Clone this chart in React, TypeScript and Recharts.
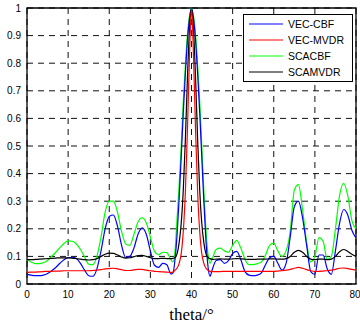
import React from 'react';
import { LineChart, Line, XAxis, YAxis, CartesianGrid, ReferenceArea } from 'recharts';

// scan angle, degrees (finer steps around the main lobe)
const theta = [
  0, 1, 2, 3, 4, 5, 6, 7, 8, 9, 10, 11, 12, 13, 14, 15, 16, 17, 18, 19, 20, 21, 22, 23, 24, 25, 26, 27, 28, 29, 30, 31, 32, 33, 34, 35,
  35.5, 36, 36.5, 37, 37.5, 38, 38.5, 39, 39.5, 40, 40.5, 41, 41.5, 42, 42.5, 43, 43.5, 44, 44.5,
  45, 46, 47, 48, 49, 50, 51, 52, 53, 54, 55, 56, 57, 58, 59, 60, 61, 62, 63, 64, 65, 66, 67, 68, 69, 70, 71, 72, 73, 74, 75, 76, 77, 78, 79, 80,
];

const vecCbf = [
  0.035, 0.032, 0.03, 0.03, 0.032, 0.038, 0.048, 0.06, 0.075, 0.088, 0.095, 0.097, 0.092, 0.075, 0.05, 0.03, 0.028, 0.055, 0.12, 0.2, 0.245, 0.25, 0.21, 0.14, 0.096, 0.1, 0.13, 0.18, 0.203, 0.18, 0.12, 0.068, 0.06, 0.075, 0.07, 0.036,
  0.04, 0.09, 0.18, 0.31, 0.46, 0.62, 0.76, 0.88, 0.96, 1.0, 0.96, 0.88, 0.76, 0.62, 0.46, 0.3, 0.16, 0.065, 0.028,
  0.05, 0.085, 0.088, 0.075, 0.085, 0.11, 0.118, 0.088, 0.045, 0.032, 0.03, 0.032, 0.04, 0.07, 0.095, 0.1, 0.075, 0.05, 0.075, 0.17, 0.28, 0.3, 0.24, 0.14, 0.045, 0.035, 0.105, 0.105, 0.055, 0.035, 0.12, 0.22, 0.27, 0.25, 0.195, 0.167,
];

const vecMvdr = [
  0.042, 0.043, 0.043, 0.044, 0.045, 0.046, 0.046, 0.047, 0.047, 0.048, 0.048, 0.048, 0.048, 0.048, 0.048, 0.048, 0.049, 0.05, 0.052, 0.055, 0.056, 0.057, 0.055, 0.052, 0.049, 0.049, 0.051, 0.053, 0.053, 0.05, 0.048, 0.046, 0.045, 0.044, 0.043, 0.042,
  0.043, 0.05, 0.058, 0.075, 0.11, 0.19, 0.33, 0.55, 0.82, 1.0, 0.82, 0.55, 0.33, 0.19, 0.11, 0.075, 0.058, 0.05, 0.046,
  0.045, 0.045, 0.045, 0.046, 0.046, 0.046, 0.046, 0.046, 0.046, 0.046, 0.046, 0.046, 0.046, 0.046, 0.046, 0.046, 0.047, 0.048, 0.05, 0.053, 0.057, 0.06, 0.057, 0.052, 0.048, 0.046, 0.046, 0.047, 0.048, 0.05, 0.053, 0.057, 0.058, 0.056, 0.053, 0.05,
];

const scaCbf = [
  0.088, 0.08, 0.074, 0.074, 0.077, 0.085, 0.1, 0.115, 0.132, 0.147, 0.156, 0.155, 0.145, 0.125, 0.098, 0.072, 0.07, 0.1, 0.17, 0.26, 0.3, 0.3, 0.26, 0.19, 0.145, 0.14, 0.18, 0.225, 0.24, 0.222, 0.17, 0.118, 0.106, 0.115, 0.114, 0.088,
  0.08, 0.12, 0.24, 0.36, 0.5, 0.66, 0.79, 0.9, 0.97, 1.0, 0.97, 0.9, 0.79, 0.66, 0.5, 0.34, 0.2, 0.11, 0.075,
  0.09, 0.125, 0.13, 0.12, 0.115, 0.14, 0.158, 0.13, 0.09, 0.07, 0.07, 0.074, 0.08, 0.105, 0.14, 0.148, 0.12, 0.1, 0.12, 0.19, 0.34, 0.36, 0.27, 0.15, 0.08, 0.1, 0.168, 0.155, 0.09, 0.1, 0.2, 0.32, 0.365, 0.32, 0.23, 0.2,
];

const scaMvdr = [
  0.088, 0.088, 0.089, 0.09, 0.091, 0.092, 0.093, 0.094, 0.095, 0.095, 0.095, 0.094, 0.092, 0.09, 0.088, 0.087, 0.088, 0.092, 0.1, 0.108, 0.112, 0.111, 0.105, 0.098, 0.094, 0.095, 0.099, 0.103, 0.104, 0.1, 0.095, 0.092, 0.092, 0.093, 0.092, 0.092,
  0.093, 0.095, 0.11, 0.15, 0.22, 0.34, 0.52, 0.74, 0.92, 1.0, 0.92, 0.74, 0.52, 0.34, 0.22, 0.15, 0.11, 0.096, 0.092,
  0.089, 0.09, 0.091, 0.09, 0.09, 0.091, 0.092, 0.091, 0.09, 0.089, 0.089, 0.09, 0.09, 0.09, 0.091, 0.091, 0.09, 0.09, 0.092, 0.1, 0.115, 0.122, 0.115, 0.1, 0.09, 0.088, 0.09, 0.09, 0.088, 0.09, 0.1, 0.117, 0.125, 0.118, 0.108, 0.1,
];

const xTicks = [0, 10, 20, 30, 40, 50, 60, 70, 80];
const yTicks = [0, 0.1, 0.2, 0.3, 0.4, 0.5, 0.6, 0.7, 0.8, 0.9, 1];

const series = [
  { key: 'vecCbf', name: 'VEC-CBF', color: '#0000ff' },
  { key: 'vecMvdr', name: 'VEC-MVDR', color: '#ff0000' },
  { key: 'scaCbf', name: 'SCACBF', color: '#00ff00' },
  { key: 'scaMvdr', name: 'SCAMVDR', color: '#000000' },
];

// drawing order: green at the back, red on top
const drawOrder = ['scaCbf', 'vecCbf', 'scaMvdr', 'vecMvdr'];

const data = theta.map((t, i) => ({
  theta: t,
  vecCbf: vecCbf[i],
  vecMvdr: vecMvdr[i],
  scaCbf: scaCbf[i],
  scaMvdr: scaMvdr[i],
}));

const tickStyle = { fontFamily: '"Liberation Sans", Arial, sans-serif', fontSize: 10, fill: '#000' };

const LegendBox = () => (
  <div
    style={{
      position: 'absolute',
      left: 243,
      top: 14,
      width: 110,
      height: 68,
      boxSizing: 'border-box',
      border: '1.5px solid #000',
      background: '#fff',
      paddingTop: 1,
      fontFamily: '"Liberation Sans", Arial, sans-serif',
      fontSize: 10.5,
      lineHeight: '16px',
      color: '#000',
    }}
  >
    {series.map((s) => (
      <div key={s.key} style={{ display: 'flex', alignItems: 'center', height: 16 }}>
        <svg width={44} height={4} style={{ flex: 'none' }}>
          <line x1={5} y1={2} x2={39} y2={2} stroke={s.color} strokeWidth={1.2} />
        </svg>
        <span>{s.name}</span>
      </div>
    ))}
  </div>
);

export default function App() {
  return (
    <div style={{ position: 'absolute', left: 0, top: 0, width: 360, height: 324, background: '#fff' }}>
      <LineChart width={360} height={324} data={data} margin={{ top: 8, right: 4, bottom: 0, left: 0 }}>
        <CartesianGrid stroke="#111" strokeDasharray="6 5" strokeWidth={1} />
        <XAxis
          dataKey="theta"
          type="number"
          domain={[0, 80]}
          ticks={xTicks}
          height={40}
          axisLine={false}
          tickLine={false}
          tickSize={0}
          tickMargin={7}
          tick={tickStyle}
          label={{
            value: 'theta/°',
            position: 'insideBottom',
            offset: 4,
            style: { fontFamily: '"Liberation Serif", "Times New Roman", serif', fontSize: 17, fill: '#000' },
          }}
        />
        <YAxis
          type="number"
          domain={[0, 1]}
          ticks={yTicks}
          width={27}
          axisLine={false}
          tickLine={false}
          tickSize={0}
          tickMargin={6}
          tick={tickStyle}
        />
        {drawOrder.map((key) => {
          const s = series.find((it) => it.key === key)!;
          return (
            <Line
              key={s.key}
              type="monotone"
              dataKey={s.key}
              name={s.name}
              stroke={s.color}
              strokeWidth={1.2}
              dot={false}
              isAnimationActive={false}
            />
          );
        })}
        <ReferenceArea x1={0} x2={80} y1={0} y2={1} fill="none" stroke="#000" strokeWidth={1.3} />
      </LineChart>
      <LegendBox />
    </div>
  );
}
